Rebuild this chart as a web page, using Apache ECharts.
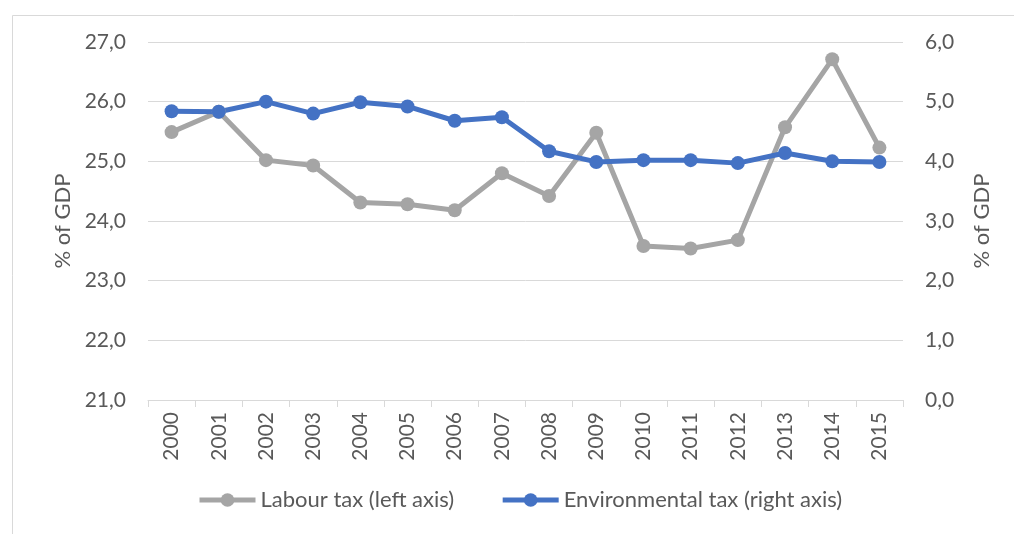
<!DOCTYPE html>
<html>
<head>
<meta charset="utf-8">
<script src="https://cdn.jsdelivr.net/npm/echarts@6/dist/echarts.min.js"></script>
<style>
  html, body { margin: 0; padding: 0; background: #fff; }
</style>
</head>
<body>
<div id="chart" style="width:1014px;height:534px;"></div>
<script>
// data
var years = ["2000", "2001", "2002", "2003", "2004", "2005", "2006", "2007",
             "2008", "2009", "2010", "2011", "2012", "2013", "2014", "2015"];
var labourTax = [25.49, 25.83, 25.02, 24.93, 24.31, 24.28, 24.18, 24.80,
                 24.42, 25.48, 23.58, 23.54, 23.68, 25.57, 26.71, 25.23];
var envTax = [4.84, 4.83, 5.00, 4.80, 4.99, 4.92, 4.68, 4.74,
              4.17, 3.99, 4.02, 4.02, 3.97, 4.14, 4.00, 3.99];
var seriesNames = ["Labour tax (left axis)", "Environmental tax (right axis)"];
var axisTitle = "% of GDP";

var textColor = "#595959";
var font = "Lato";

function commaFmt(v) {
  return v.toFixed(1).replace(".", ",");
}

var chart = echarts.init(document.getElementById("chart"));

var option = {
  backgroundColor: "#fff",
  animation: false,
  textStyle: { fontFamily: font, color: textColor },
  graphic: [
    {
      type: "rect",
      left: 10, top: 13,
      shape: { width: 1020, height: 540 },
      style: { fill: "none", stroke: "#d9d9d9", lineWidth: 1 }
    }
  ],
  grid: { left: 148, right: 111, top: 42, bottom: 134 },
  legend: {
    bottom: 18,
    left: 192,
    itemWidth: 56,
    itemHeight: 17,
    itemGap: 46,
    lineStyle: { width: 5 },
    textStyle: { fontFamily: font, fontSize: 22, color: textColor },
    data: seriesNames
  },
  xAxis: {
    type: "category",
    data: years,
    boundaryGap: true,
    axisLine: { lineStyle: { color: "#d9d9d9", width: 1 } },
    axisTick: { show: true, length: 7, lineStyle: { color: "#d9d9d9" } },
    axisLabel: { rotate: 90, margin: 12, fontFamily: font, fontSize: 21, color: textColor }
  },
  yAxis: [
    {
      type: "value",
      min: 21, max: 27, interval: 1,
      name: axisTitle,
      nameLocation: "middle",
      nameGap: 74,
      nameTextStyle: { fontFamily: font, fontSize: 22, color: textColor },
      axisLine: { show: false },
      axisTick: { show: false },
      splitLine: { lineStyle: { color: "#d9d9d9", width: 1 } },
      axisLabel: { margin: 22, fontFamily: font, fontSize: 21, color: textColor, formatter: commaFmt }
    },
    {
      type: "value",
      min: 0, max: 6, interval: 1,
      name: axisTitle,
      nameLocation: "middle",
      nameGap: 68,
      nameRotate: 90,
      nameTextStyle: { fontFamily: font, fontSize: 22, color: textColor },
      axisLine: { show: false },
      axisTick: { show: false },
      splitLine: { show: false },
      axisLabel: { margin: 22, fontFamily: font, fontSize: 21, color: textColor, formatter: commaFmt }
    }
  ],
  series: [
    {
      name: seriesNames[0],
      type: "line",
      yAxisIndex: 0,
      data: labourTax,
      symbol: "circle",
      symbolSize: 14,
      color: "#a5a5a5",
      lineStyle: { width: 5, color: "#a5a5a5" },
      itemStyle: { color: "#a5a5a5" }
    },
    {
      name: seriesNames[1],
      type: "line",
      yAxisIndex: 1,
      data: envTax,
      symbol: "circle",
      symbolSize: 14,
      color: "#4472c4",
      lineStyle: { width: 5, color: "#4472c4" },
      itemStyle: { color: "#4472c4" }
    }
  ]
};

chart.setOption(option);
</script>
</body>
</html>
